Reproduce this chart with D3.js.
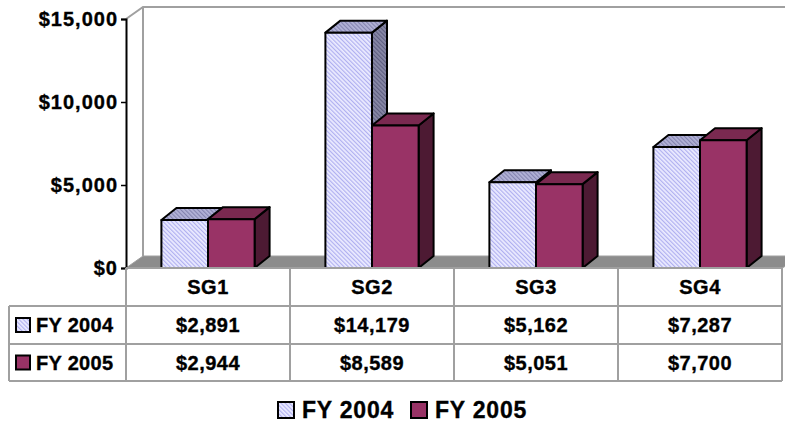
<!DOCTYPE html>
<html>
<head>
<meta charset="utf-8">
<script src="https://cdn.jsdelivr.net/npm/d3@7"></script>
<style>
  body { margin: 0; background: #fff; }
  text { font-family: "Liberation Sans", Arial, sans-serif; font-weight: bold; fill: #000; stroke: #000; stroke-width: 0.35px; }
</style>
</head>
<body>
<script>
// chart data
const categories = ["SG1", "SG2", "SG3", "SG4"]
const seriesNames = ["FY 2004", "FY 2005"]
const fy2004 = [2891, 14179, 5162, 7287]
const fy2005 = [2944, 8589, 5051, 7700]
const yTicks = [0, 5000, 10000, 15000]

const W = 785, H = 424
const left = 126, right = 782, floorY = 268, topY = 19
const wallDx = 17, wallDy = -12   // depth of the plot box
const barDx = 15, barDy = -12     // depth of a bar

const fmt = d3.format("$,")

const svg = d3.select("body").append("svg")
    .attr("width", W).attr("height", H)

// hatch patterns for FY 2004
const defs = svg.append("defs")
function hatch(id, base, line){
    const p = defs.append("pattern")
        .attr("id", id)
        .attr("patternUnits", "userSpaceOnUse")
        .attr("width", 3).attr("height", 3)
        .attr("patternTransform", "rotate(-45)")
    p.append("rect").attr("width", 3).attr("height", 3).attr("fill", base)
    p.append("rect").attr("width", 1.2).attr("height", 3).attr("fill", line)
}
hatch("h-front", "#ececff", "#b0b0f0")
hatch("h-top", "#b4b4d8", "#8484b0")
hatch("h-side", "#8a8aa8", "#5e5e80")

const faces = [
    {front: "url(#h-front)", top: "url(#h-top)", side: "url(#h-side)"},
    {front: "#993366", top: "#7a2950", side: "#4d1a33"}
]

const x0 = d3.scaleBand().domain(categories).range([left, right])
const x1 = d3.scaleBand().domain(seriesNames).range([0, x0.bandwidth()]).paddingOuter(0.76)
const y = d3.scaleLinear().domain([0, 15000]).range([floorY, topY])

// walls + floor
const g = svg.append("g")
g.append("polygon")
    .attr("points", [[left, floorY], [left + wallDx, floorY + wallDy], [W + 20, floorY + wallDy], [right, floorY]].join(" "))
    .attr("fill", "#8c8c8c").attr("stroke", "#a0a0a0").attr("stroke-width", 1)
g.append("path")
    .attr("d", `M${left},${y(15000)}L${left + wallDx},${y(15000) + wallDy}L${W + 20},${y(15000) + wallDy}M${left + wallDx},${y(15000) + wallDy}L${left + wallDx},${floorY + wallDy}`)
    .attr("fill", "none").attr("stroke", "#a0a0a0").attr("stroke-width", 2)

// bars
const rows = categories.map((c, i) => [
    {cat: c, s: seriesNames[0], v: fy2004[i], k: 0},
    {cat: c, s: seriesNames[1], v: fy2005[i], k: 1}
]).flat()

const bar = g.selectAll("g.bar").data(rows).enter().append("g").attr("class", "bar")
bar.each(function(d){
    const bx = x0(d.cat) + x1(d.s), bw = x1.bandwidth()
    const ty = y(d.v), by = y(0)
    const el = d3.select(this)
    el.append("polygon") // side
        .attr("points", [[bx + bw, ty], [bx + bw + barDx, ty + barDy], [bx + bw + barDx, by + barDy], [bx + bw, by]].join(" "))
        .attr("fill", faces[d.k].side)
    el.append("polygon") // top
        .attr("points", [[bx, ty], [bx + barDx, ty + barDy], [bx + bw + barDx, ty + barDy], [bx + bw, ty]].join(" "))
        .attr("fill", faces[d.k].top)
    el.append("rect") // front
        .attr("x", bx).attr("y", ty).attr("width", bw).attr("height", by - ty)
        .attr("fill", faces[d.k].front)
    el.selectAll("*").attr("stroke", "#000").attr("stroke-width", 2).attr("stroke-linejoin", "round")
})

// y axis
const yAxis = svg.append("g").attr("transform", `translate(${left},0)`)
    .call(d3.axisLeft(y).tickValues(yTicks).tickFormat(fmt).tickSize(5).tickPadding(3))
yAxis.select(".domain").attr("stroke", "#000").attr("stroke-width", 2)
yAxis.selectAll(".tick line").attr("stroke", "#000").attr("stroke-width", 1.5)
yAxis.selectAll("text").attr("font-size", 20).attr("letter-spacing", 1)
    .style("font-family", "'Liberation Sans', Arial, sans-serif").style("font-weight", "bold")

// data table
const tbl = svg.append("g")
const rowY = [floorY, 306, 344, 381]
const gridC = "#a0a0a0"
tbl.selectAll("line.h").data(rowY).enter().append("line")
    .attr("x1", (d, i) => i == 0 ? left : 9).attr("x2", right)
    .attr("y1", d => d).attr("y2", d => d)
    .attr("stroke", gridC).attr("stroke-width", 2)
const colX = x0.domain().map(c => x0(c)).concat([right])
tbl.selectAll("line.v").data(colX).enter().append("line")
    .attr("x1", d => d).attr("x2", d => d)
    .attr("y1", floorY).attr("y2", rowY[3])
    .attr("stroke", gridC).attr("stroke-width", 2)
tbl.append("line").attr("x1", 9).attr("x2", 9).attr("y1", rowY[1]).attr("y2", rowY[3])
    .attr("stroke", gridC).attr("stroke-width", 2)

tbl.selectAll("text.cat").data(categories).enter().append("text")
    .attr("x", d => x0(d) + x0.bandwidth() / 2).attr("y", (rowY[0] + rowY[1]) / 2)
    .attr("text-anchor", "middle").attr("dy", "0.36em")
    .attr("font-size", 20).attr("letter-spacing", 0.5).text(d => d)

;[fy2004, fy2005].forEach((vals, k) => {
    const cy = (rowY[k + 1] + rowY[k + 2]) / 2
    tbl.selectAll("text.v" + k).data(vals).enter().append("text")
        .attr("x", (d, i) => x0(categories[i]) + x0.bandwidth() / 2).attr("y", cy)
        .attr("text-anchor", "middle").attr("dy", "0.36em")
        .attr("font-size", 20).attr("letter-spacing", 0.5).text(d => fmt(d))
    tbl.append("rect").attr("x", 16).attr("y", cy - 7).attr("width", 14).attr("height", 14)
        .attr("fill", faces[k].front).attr("stroke", "#000").attr("stroke-width", 2)
    tbl.append("text").attr("x", 36).attr("y", cy).attr("dy", "0.36em")
        .attr("font-size", 20).attr("letter-spacing", 0.3).text(seriesNames[k])
})

// legend
const legX = [278, 411]
const leg = svg.append("g")
seriesNames.forEach((s, k) => {
    leg.append("rect").attr("x", legX[k]).attr("y", 402).attr("width", 16).attr("height", 16)
        .attr("fill", faces[k].front).attr("stroke", "#000").attr("stroke-width", 2)
    leg.append("text").attr("x", legX[k] + 24).attr("y", 410).attr("dy", "0.36em")
        .attr("font-size", 23).attr("letter-spacing", 0.8).text(s)
})
</script>
</body>
</html>
